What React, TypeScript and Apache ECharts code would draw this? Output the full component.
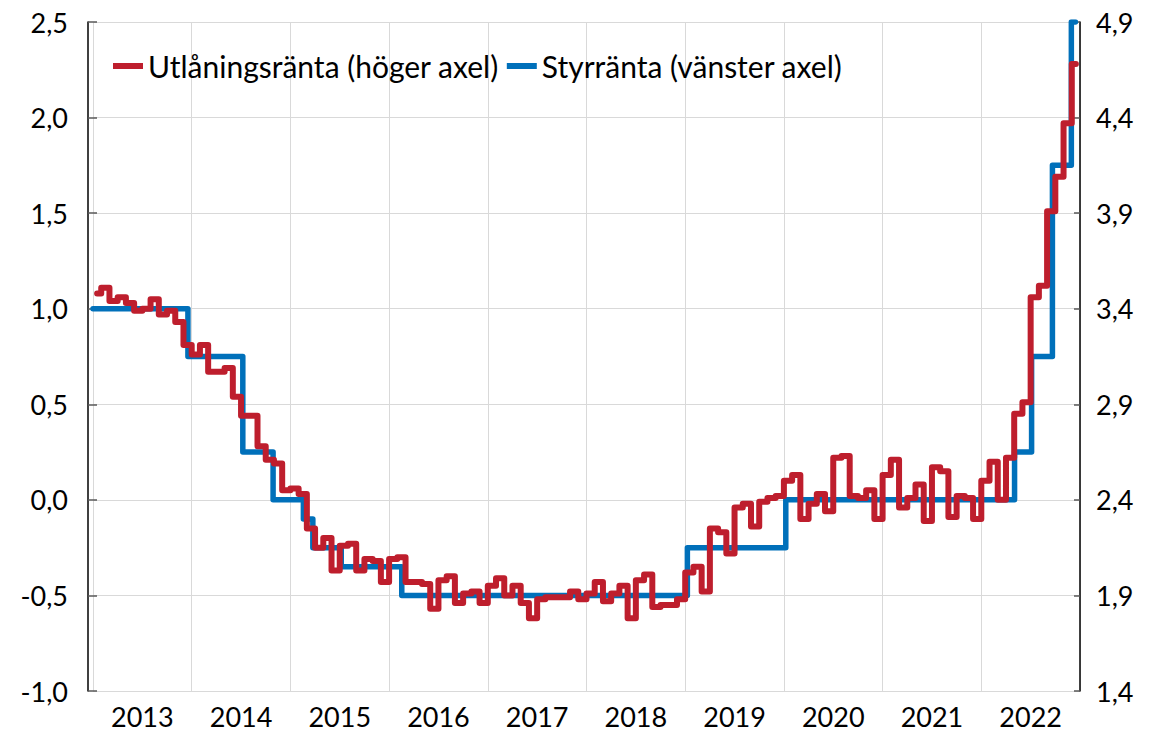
import React, { useEffect, useRef } from "react";
import * as echarts from "echarts";

// X-axis band labels (calendar years)
const yearLabels = ["2013", "2014", "2015", "2016", "2017", "2018", "2019", "2020", "2021", "2022"];

// Styrränta (policy rate, left axis): effective dates and levels
const policyDates = [
  "2013-01-01", "2013-12-18", "2014-07-09", "2014-10-29", "2015-02-18", "2015-03-25",
  "2015-07-08", "2016-02-17", "2019-01-09", "2020-01-08", "2022-05-04", "2022-07-06",
  "2022-09-21", "2022-11-30",
];
const policyRates = [1.0, 0.75, 0.25, 0.0, -0.1, -0.25, -0.35, -0.5, -0.25, 0.0, 0.25, 0.75, 1.75, 2.5];
const policyLastDate = "2022-12-15";

// Utlåningsränta (lending rate, right axis), monthly values Jan–Dec per year
const lending2013 = [3.48, 3.51, 3.44, 3.46, 3.43, 3.39, 3.40, 3.45, 3.37, 3.39, 3.33, 3.21];
const lending2014 = [3.16, 3.21, 3.07, 3.07, 3.09, 2.94, 2.84, 2.84, 2.68, 2.61, 2.59, 2.45];
const lending2015 = [2.46, 2.43, 2.25, 2.15, 2.20, 2.03, 2.16, 2.17, 2.03, 2.09, 2.08, 1.97];
const lending2016 = [2.09, 2.10, 1.97, 1.97, 1.96, 1.83, 1.98, 2.00, 1.86, 1.91, 1.92, 1.86];
const lending2017 = [1.95, 1.99, 1.90, 1.95, 1.86, 1.78, 1.88, 1.89, 1.89, 1.89, 1.92, 1.88];
const lending2018 = [1.91, 1.97, 1.87, 1.91, 1.95, 1.78, 1.98, 2.01, 1.84, 1.85, 1.85, 1.88];
const lending2019 = [2.02, 2.05, 1.92, 2.25, 2.23, 2.12, 2.36, 2.38, 2.26, 2.39, 2.41, 2.42];
const lending2020 = [2.50, 2.53, 2.30, 2.38, 2.43, 2.34, 2.62, 2.63, 2.42, 2.41, 2.45, 2.30];
const lending2021 = [2.53, 2.61, 2.36, 2.41, 2.48, 2.29, 2.57, 2.55, 2.31, 2.42, 2.41, 2.30];
const lending2022 = [2.50, 2.60, 2.40, 2.62, 2.85, 2.91, 3.46, 3.52, 3.91, 4.09, 4.37, 4.68];
const lendingFirstYear = 2013;

const lendingName = "Utlåningsränta (höger axel)";
const policyName = "Styrränta (vänster axel)";

const toYear = (d: string) => {
  const [y, m, day] = d.split("-").map(Number);
  const start = Date.UTC(y, 0, 1);
  const end = Date.UTC(y + 1, 0, 1);
  return y + (Date.UTC(y, m - 1, day) - start) / (end - start);
};

const fmt = (v: number) => v.toFixed(1).replace(".", ",");

const FONT = "Lato, 'Open Sans', sans-serif";

export default function App() {
  const ref = useRef<HTMLDivElement>(null);

  useEffect(() => {
    document.body.style.margin = "0";
    if (!ref.current) return;
    const chart = echarts.init(ref.current, undefined, { renderer: "svg" });

    const lending = [
      ...lending2013, ...lending2014, ...lending2015, ...lending2016, ...lending2017,
      ...lending2018, ...lending2019, ...lending2020, ...lending2021, ...lending2022,
    ];
    const lendingData = lending.map((v, i) => [lendingFirstYear + (i + 0.5) / 12, v]);
    const policyData = policyDates.map((d, i) => [toYear(d), policyRates[i]]);
    policyData.push([toYear(policyLastDate), policyRates[policyRates.length - 1]]);

    chart.setOption({
      animation: false,
      textStyle: { fontFamily: FONT, color: "#000" },
      grid: { left: 93, right: 70, top: 22, bottom: 52, containLabel: false },
      legend: {
        left: 108,
        top: 46,
        icon: "rect",
        itemWidth: 30,
        itemHeight: 6,
        itemGap: 8,
        data: [lendingName, policyName],
        textStyle: { fontFamily: FONT, fontSize: 30, color: "#000" },
      },
      xAxis: [
        {
          type: "value",
          position: "bottom",
          min: 2013,
          max: 2023,
          interval: 1,
          axisLine: { show: false },
          axisTick: { show: false },
          axisLabel: { show: false },
          splitLine: { show: true, lineStyle: { color: "#d9d9d9", width: 1 } },
        },
        {
          type: "category",
          position: "bottom",
          data: yearLabels,
          boundaryGap: true,
          axisLine: { show: false },
          axisTick: { show: false },
          splitLine: { show: false },
          axisLabel: { fontFamily: FONT, fontSize: 27, color: "#000", margin: 12 },
        },
      ],
      yAxis: [
        {
          type: "value",
          position: "left",
          offset: 5,
          min: -1,
          max: 2.5,
          interval: 0.5,
          axisLine: { show: true, lineStyle: { color: "#000", width: 1.5 } },
          axisTick: { show: true, inside: true, length: 9, lineStyle: { color: "#595959", width: 1.5 } },
          splitLine: { show: true, lineStyle: { color: "#d9d9d9", width: 1 } },
          axisLabel: { fontFamily: FONT, fontSize: 27, color: "#000", margin: 20, formatter: fmt },
        },
        {
          type: "value",
          position: "right",
          min: 1.4,
          max: 4.9,
          interval: 0.5,
          axisLine: { show: true, lineStyle: { color: "#000", width: 1.5 } },
          axisTick: { show: true, inside: true, length: 6, lineStyle: { color: "#595959", width: 1.5 } },
          splitLine: { show: false },
          axisLabel: { fontFamily: FONT, fontSize: 27, color: "#000", margin: 16, formatter: fmt },
        },
      ],
      series: [
        {
          name: policyName,
          type: "line",
          xAxisIndex: 0,
          yAxisIndex: 0,
          step: "end",
          symbol: "none",
          data: policyData,
          lineStyle: { color: "#0070ba", width: 5.5, join: "round", cap: "round" },
          itemStyle: { color: "#0070ba" },
          z: 2,
        },
        {
          name: lendingName,
          type: "line",
          xAxisIndex: 0,
          yAxisIndex: 1,
          step: "middle",
          symbol: "none",
          data: lendingData,
          lineStyle: { color: "#be1e2d", width: 6, join: "round", cap: "round" },
          itemStyle: { color: "#be1e2d" },
          z: 3,
        },
      ],
    });

    return () => chart.dispose();
  }, []);

  return <div ref={ref} style={{ width: 1150, height: 743 }} />;
}
